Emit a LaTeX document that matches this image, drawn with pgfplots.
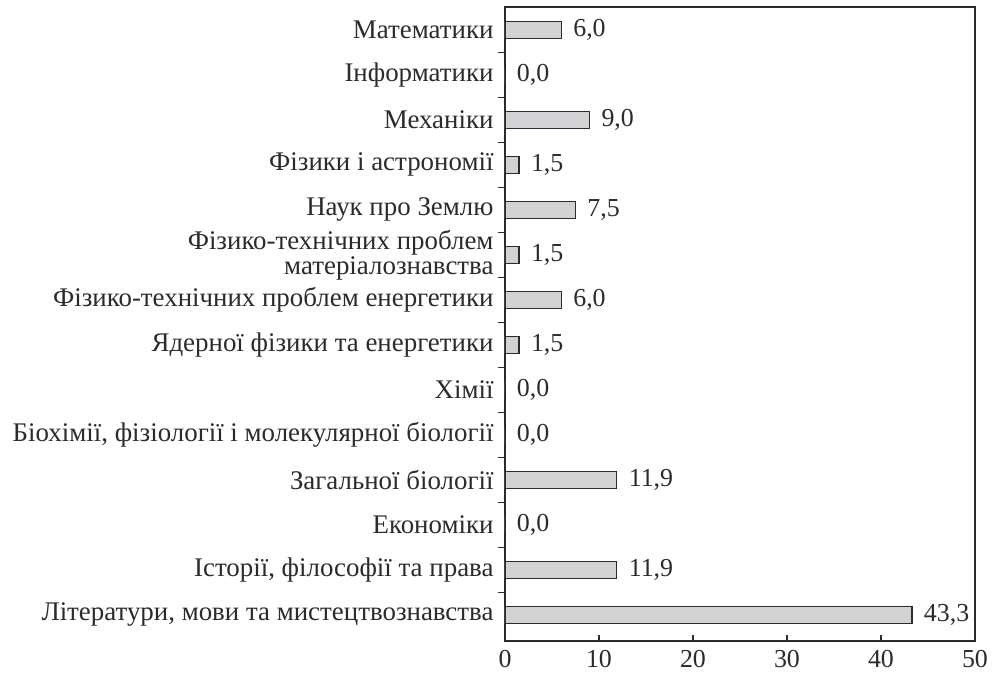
\documentclass[border=0pt]{standalone}
\usepackage{fontspec}
\setmainfont{Liberation Serif}
\usepackage{pgfplots}
\pgfplotsset{compat=1.18}
\pgfkeys{/pgf/number format/assume math mode=true}
\definecolor{barfill}{HTML}{D2D2D4}
\definecolor{ink}{HTML}{2B2B2B}

% share of ... by section, %
\pgfplotstableread{
idx val
0 6.0
1 0.0
2 9.0
3 1.5
4 7.5
5 1.5
6 6.0
7 1.5
8 0.0
9 0.0
10 11.9
11 0.0
12 11.9
13 43.3
}\datatable

\begin{document}
\begin{tikzpicture}
\begin{axis}[
    name=ax,
    scale only axis,
    width=470bp, height=634bp,
    xbar, bar width=0.376,
    y dir=reverse,
    xmin=0, xmax=50,
    ymin=-0.51, ymax=13.58,
    xtick={0,10,...,50},
    xtick pos=bottom, xtick align=inside,
    major tick length=6bp,
    ytick={0,...,13},
    ytick pos=left, ytick align=outside,
    y tick style={draw=none},
    minor ytick={0.5,1.5,...,12.5},
    minor y tick style={draw=ink, line width=1.2pt},
    minor tick length=7bp,
    yticklabels={
        Математики,
        Інформатики,
        Механіки,
        Фізики і астрономії,
        Наук про Землю,
        {Фізико-технічних проблем\\матеріалознавства},
        Фізико-технічних проблем енергетики,
        Ядерної фізики та енергетики,
        Хімії,
        {Біохімії, фізіології і молекулярної біології},
        Загальної біології,
        Економіки,
        {Історії, філософії та права},
        {Літератури, мови та мистецтвознавства}
    },
    yticklabel style={align=right, font=\fontsize{27}{25}\selectfont, text=ink, xshift=-2bp},
    xticklabel style={font=\fontsize{26}{28}\selectfont, text=ink, inner sep=0pt, anchor=north, yshift=-9bp},
    axis line style={draw=ink, line width=1.2pt},
    x tick style={draw=ink, line width=1.2pt},
    point meta=x,
    nodes near coords={\pgfmathprintnumber[fixed,fixed zerofill,precision=1,use comma]{\pgfplotspointmeta}},
    nodes near coords style={font=\fontsize{26}{26}\selectfont, text=ink, anchor=west, xshift=8bp},
]
\addplot[draw=ink, fill=barfill, line width=1.2pt] table[x=val, y=idx] {\datatable};
\end{axis}
\pgfresetboundingbox
\path ([shift={(-505bp,-32bp)}]ax.south west) rectangle ([shift={(494bp,7bp)}]ax.north west);
\end{tikzpicture}
\end{document}
